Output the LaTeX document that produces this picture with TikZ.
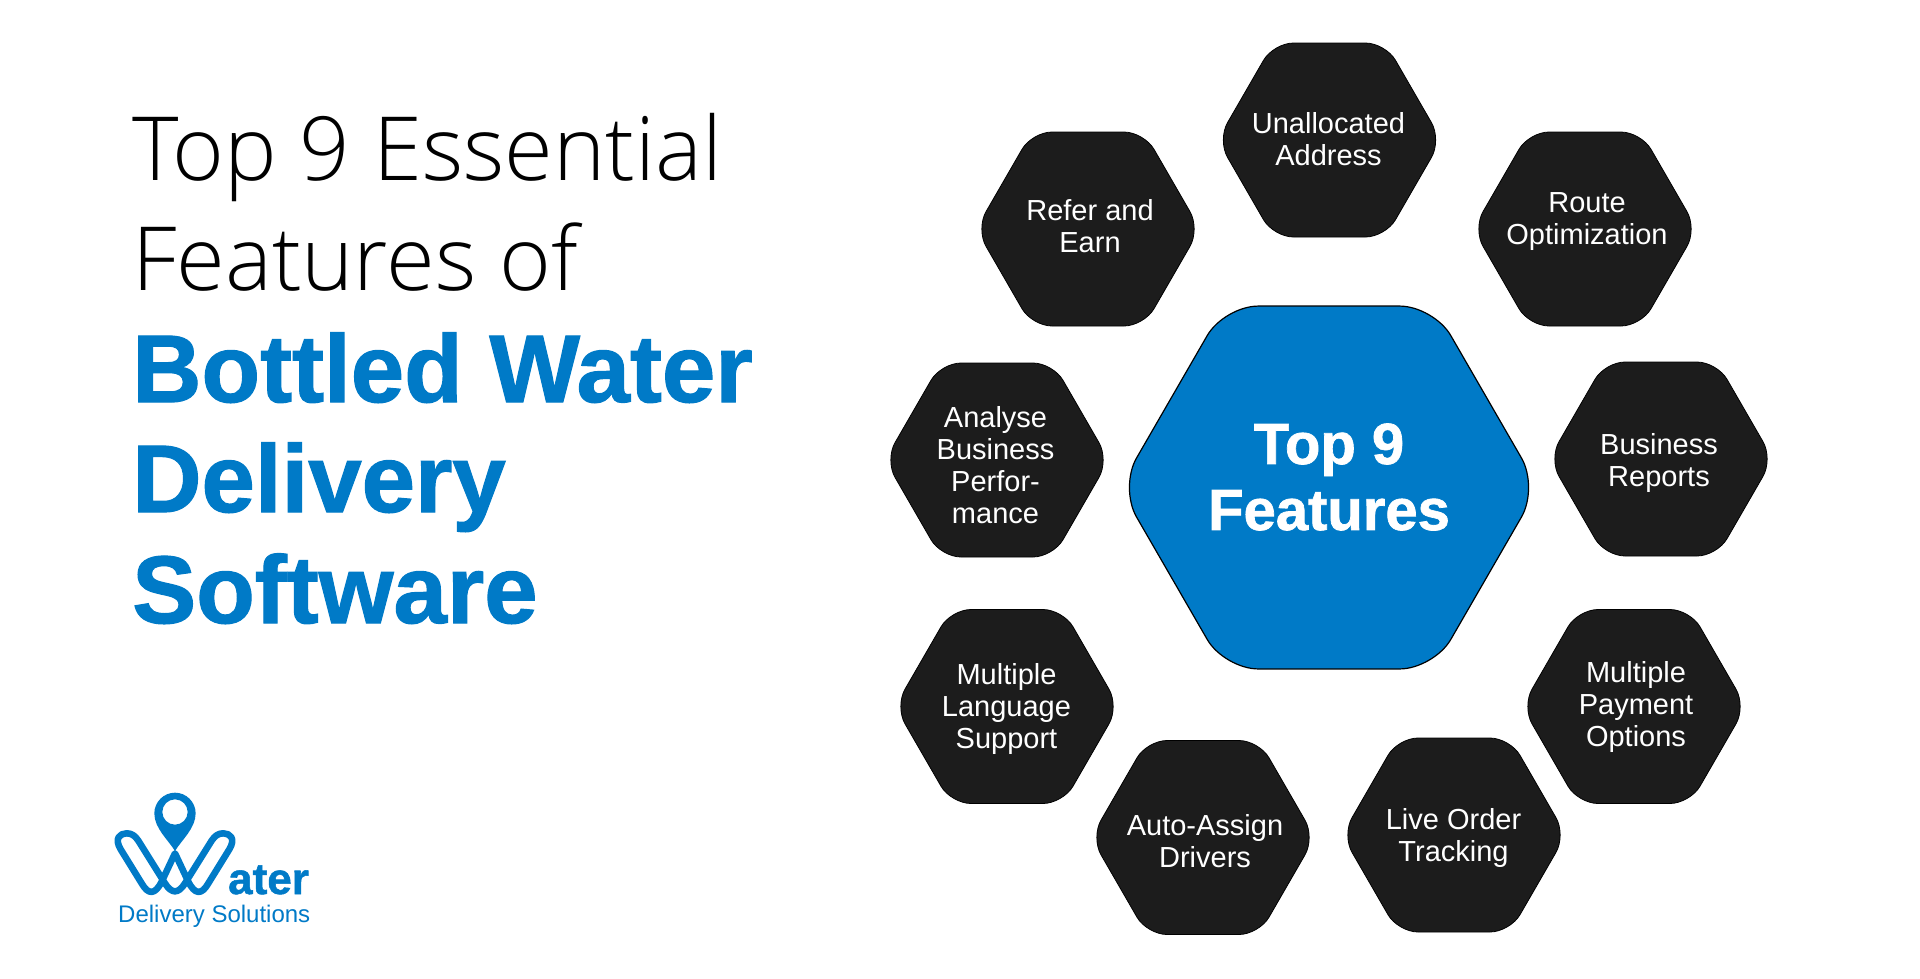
\documentclass[tikz,border=0pt]{standalone}
\usepackage{fontspec}
\usepackage{tikz}
\usetikzlibrary{shapes.geometric}
\setmainfont{Liberation Sans}
\newfontfamily\titlelight{Open Sans Light}
\newfontfamily\titleheavy[FakeBold=1.2]{Liberation Sans Bold}
\definecolor{waterblue}{HTML}{007AC7}
\definecolor{hexdark}{HTML}{1C1C1C}

\begin{document}
\begin{tikzpicture}[x=1pt,y=-1pt,
			hexsmall/.style={regular polygon,regular polygon sides=6,minimum size=224pt,inner sep=0pt,
				rounded corners=20pt,fill=hexdark,draw=black,line width=0.8pt},
			hexlabel/.style={text=white,align=center,inner sep=0pt,
				font=\fontsize{29}{32}\selectfont},
			hexbig/.style={regular polygon,regular polygon sides=6,minimum size=419pt,inner sep=0pt,
				rounded corners=34pt,fill=waterblue,draw=black,line width=1.2pt},
			hexbiglabel/.style={text=white,align=center,inner sep=0pt,
				font=\fontsize{58}{66}\selectfont\titleheavy},
			titlethin/.style={anchor=base west,inner sep=0pt,font=\fontsize{88.5}{110}\selectfont\titlelight},
			titlebold/.style={anchor=base west,inner sep=0pt,text=waterblue,font=\fontsize{96}{110}\selectfont\titleheavy},
			logoline/.style={draw=waterblue,line width=6.6pt,line join=round}]
			\useasboundingbox (0,0) rectangle (1920,978);
			\fill[white] (0,0) rectangle (1920,978);

			\node[titlethin] (titleone) at (132,180) {Top 9 Essential};
			\node[titlethin] (titletwo) at (132,290) {Features of};
			\node[titlebold] (titlethree) at (132,402) {Bottled Water};
			\node[titlebold] (titlefour) at (132,512) {Delivery};
			\node[titlebold] (titlefive) at (132,623) {Software};

			\node[hexbig] (center) at (1329,487.5) {};
			\node[hexbiglabel] (centertext) at (1329,477) {Top 9\\Features};

			\node[hexsmall] (unallocated) at (1329.5,140) {};
			\node[hexsmall] (route) at (1585,229) {};
			\node[hexsmall] (reports) at (1661,459) {};
			\node[hexsmall] (payment) at (1634,706.5) {};
			\node[hexsmall] (tracking) at (1454,835) {};
			\node[hexsmall] (drivers) at (1203,837.5) {};
			\node[hexsmall] (language) at (1007,706.5) {};
			\node[hexsmall] (analyse) at (997,460) {};
			\node[hexsmall] (refer) at (1088,229) {};

			\node[hexlabel] (unallocatedtext) at (1328.5,139.6) {Unallocated\\Address};
			\node[hexlabel] (routetext) at (1587,222) {Route\\Optimization};
			\node[hexlabel] (reportstext) at (1659,462.5) {Business\\Reports};
			\node[hexlabel] (paymenttext) at (1636,706.5) {Multiple\\Payment\\Options};
			\node[hexlabel] (trackingtext) at (1453.5,837.5) {Live Order\\Tracking};
			\node[hexlabel] (driverstext) at (1205,841) {Auto-Assign\\Drivers};
			\node[hexlabel] (languagetext) at (1006.5,709) {Multiple\\Language\\Support};
			\node[hexlabel] (analysetext) at (995.5,465) {Analyse\\Business\\Perfor-\\mance};
			\node[hexlabel] (refertext) at (1090,226.5) {Refer and\\Earn};

			\begin{scope}[shift={(90,770)},x=0.3333pt,y=-0.3333pt]
				\draw[logoline] (255,250) -- (215,335) .. controls (195,375) and (175,375) .. (155,340)
					-- (92,238) .. controls (72,205) and (90,190) .. (110,190)
					.. controls (125,190) and (135,197) .. (145,212)
					-- (225,340) .. controls (245,372) and (265,372) .. (285,340)
					-- (365,212) .. controls (375,197) and (385,190) .. (400,190)
					.. controls (420,190) and (438,205) .. (418,238)
					-- (355,340) .. controls (335,375) and (315,375) .. (295,335) -- cycle;
				\fill[waterblue,even odd rule] (255,243) .. controls (235,210) and (193,175) .. (193,130)
					.. controls (193,96) and (221,68) .. (255,68)
					.. controls (289,68) and (317,96) .. (317,130)
					.. controls (317,175) and (275,210) .. (255,243) -- cycle
					(255,126) circle[radius=38];
			\end{scope}
			\node[anchor=base west,inner sep=0pt,text=waterblue,font=\fontsize{44}{46}\selectfont\titleheavy] (logoater) at (228,894) {ater};
			\node[anchor=base west,inner sep=0pt,text=waterblue,font=\fontsize{24}{26}\selectfont] (logosub) at (118,922) {Delivery Solutions};
\end{tikzpicture}
\end{document}
